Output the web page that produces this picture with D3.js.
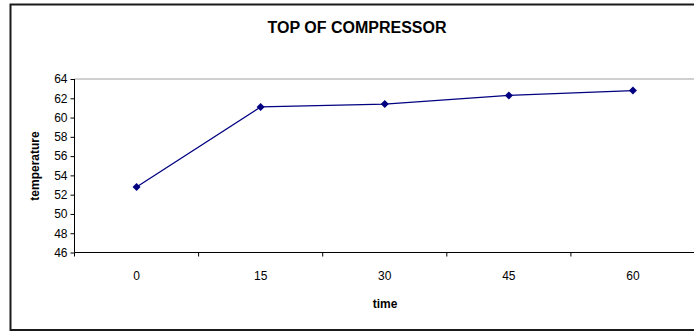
<!DOCTYPE html>
<html>
<head>
<meta charset="utf-8">
<script src="https://cdn.jsdelivr.net/npm/d3@7"></script>
<style>
  html, body { margin: 0; padding: 0; background: #fff; }
  svg { display: block; font-family: "Liberation Sans", Arial, sans-serif; }
</style>
</head>
<body>
<svg id="chart" width="694" height="333"></svg>
<script>
// Compressor top temperature readings over time
const times = ["0", "15", "30", "45", "60"];
const temperatures = [52.8, 61.1, 61.4, 62.3, 62.8];
const yTicks = [46, 48, 50, 52, 54, 56, 58, 60, 62, 64];
const chartTitle = "TOP OF COMPRESSOR";
const xTitle = "time";
const yTitle = "temperature";

const svg = d3.select("#chart");
const W = 694, H = 333;
const plot = { left: 74.5, right: 695, top: 79, bottom: 252.5 };
const navy = "#000080";

svg.append("rect").attr("width", W).attr("height", H).attr("fill", "#fff");

// chart frame (runs off the right edge)
svg.append("path")
  .attr("d", `M${W + 5},4.5 H10.5 V330 H${W + 5}`)
  .attr("fill", "none").attr("stroke", "#1a1a1a").attr("stroke-width", 2);

const x = d3.scaleBand().domain(times).range([plot.left, plot.right]);
const y = d3.scaleLinear().domain([46, 64]).range([plot.bottom, plot.top]);

// gridline at the top value
svg.append("line")
  .attr("x1", plot.left).attr("x2", plot.right)
  .attr("y1", y(64)).attr("y2", y(64))
  .attr("stroke", "#a0a0a0").attr("stroke-width", 1);

// y axis
const yAxis = d3.axisLeft(y).tickValues(yTicks).tickSize(4).tickPadding(3).tickFormat(d3.format("d"));
const gy = svg.append("g").attr("transform", `translate(${plot.left},0)`).call(yAxis);
gy.select(".domain").attr("stroke", "#000").attr("d", `M0,${y(64)}V${y(46)}`);
gy.selectAll(".tick line").attr("stroke", "#000");
gy.selectAll(".tick text").attr("font-size", 12).attr("fill", "#000");

// x axis with ticks on category boundaries
const gx = svg.append("g").attr("transform", `translate(0,${plot.bottom})`);
gx.append("line").attr("x1", plot.left).attr("x2", plot.right)
  .attr("stroke", "#000");
const bounds = times.map(t => x(t));
gx.selectAll("line.tk").data(bounds).join("line").attr("class", "tk")
  .attr("x1", d => d).attr("x2", d => d).attr("y1", 0).attr("y2", 4)
  .attr("stroke", "#000");
gx.selectAll("text").data(times).join("text")
  .attr("x", d => x(d) + x.bandwidth() / 2).attr("y", 27)
  .attr("text-anchor", "middle").attr("font-size", 12).attr("fill", "#000")
  .text(d => d);

// series line and diamond markers
const line = d3.line().x((d, i) => x(times[i]) + x.bandwidth() / 2).y(d => y(d));
svg.append("path").datum(temperatures).attr("d", line)
  .attr("fill", "none").attr("stroke", navy).attr("stroke-width", 1.3);
svg.selectAll("path.pt").data(temperatures).join("path").attr("class", "pt")
  .attr("transform", (d, i) => `translate(${x(times[i]) + x.bandwidth() / 2},${y(d)})`)
  .attr("d", "M0,-4L4,0L0,4L-4,0Z").attr("fill", navy);

// titles
svg.append("text").attr("x", 357).attr("y", 33).attr("text-anchor", "middle")
  .attr("font-size", 16).attr("font-weight", "bold").text(chartTitle);
svg.append("text").attr("x", 385).attr("y", 308).attr("text-anchor", "middle")
  .attr("font-size", 12).attr("font-weight", "bold").text(xTitle);
svg.append("text").attr("transform", "translate(39,166) rotate(-90)")
  .attr("text-anchor", "middle").attr("font-size", 12).attr("font-weight", "bold").text(yTitle);
</script>
</body>
</html>
